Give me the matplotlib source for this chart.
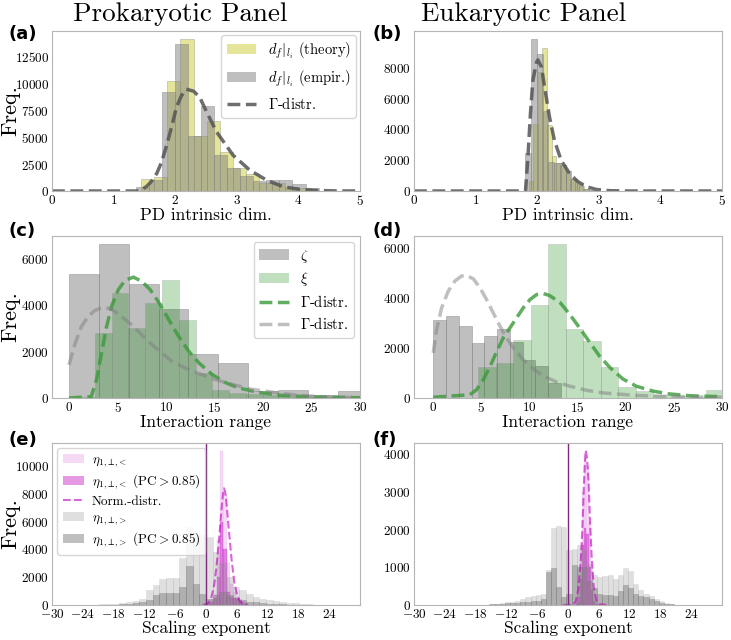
import numpy as np
import matplotlib.pyplot as plt
from matplotlib.patches import Patch
from matplotlib.lines import Line2D

plt.rcParams['font.family'] = ['cmr10', 'DejaVu Sans']
plt.rcParams['mathtext.fontset'] = 'cm'
plt.rcParams['axes.formatter.use_mathtext'] = True

# ---------------- data ----------------
# (a) prokaryotic PD intrinsic dim
a_theory_start, a_theory_w = 1.45, 0.212
a_theory = [1080, 1320, 10260, 14200, 5080, 6540, 3600, 2100, 1540, 770, 710, 400, 250]
a_emp_start, a_emp_w = 1.36, 0.212
a_emp = [400, 1000, 9240, 13700, 5100, 7950, 3330, 2150, 1390, 925, 1050, 1000, 650, 250]
a_fit_x = [0, 1.35, 1.42, 1.53, 1.61, 1.70, 1.78, 1.86, 1.94, 2.02, 2.10, 2.18, 2.30, 2.40, 2.51,
           2.67, 2.94, 3.21, 3.48, 3.75, 4.02, 4.30, 4.6, 5.0]
a_fit_y = [0, 0, 0, 400, 860, 1630, 2700, 4240, 5940, 7800, 8870, 9490, 9300, 8710, 7370,
           5520, 3330, 1950, 1020, 400, 150, 50, 10, 0]

# (b) eukaryotic PD intrinsic dim
b_theory_start, b_theory_w = 1.86, 0.075
b_theory = [640, 4350, 7700, 9300, 4300, 2280, 1800, 1690, 1150, 800, 600, 300, 100]
b_emp_start, b_emp_w = 1.81, 0.093
b_emp = [2470, 9900, 8930, 5200, 1900, 1850, 1700, 1300, 800, 450, 150, 60, 20]
b_fit_x = [0, 1.81, 1.85, 1.89, 1.93, 1.99, 2.01, 2.07, 2.12, 2.20, 2.28, 2.39, 2.53, 2.66,
           2.80, 2.96, 3.18, 3.5, 5.0]
b_fit_y = [0, 0, 2230, 5020, 7200, 8370, 8520, 8050, 6750, 4800, 3280, 1980, 1110, 610,
           280, 100, 20, 0, 0]

# (c) prokaryotic interaction range
c_zeta_start, c_zeta_w = 0.0, 3.08
c_zeta = [5350, 6650, 4920, 3830, 1910, 1510, 300, 330, 140, 290]
c_xi_start, c_xi_w = 0.94, 1.73
c_xi = [50, 2800, 4520, 3010, 4090, 5100, 3370, 1080, 330, 230, 180, 120, 80, 60, 50, 30, 30]
c_fitxi_x = [0, 2.3, 2.84, 3.36, 3.88, 4.39, 5.09, 5.78, 6.64, 7.5, 8.37, 9.24, 10.28, 11.3,
             12.35, 13.4, 14.8, 16.2, 17.5, 19.6, 22.0, 25.5, 30]
c_fitxi_y = [0, 60, 790, 1940, 3080, 3950, 4670, 5070, 5210, 5030, 4670, 4130, 3380, 2660,
             2010, 1510, 1000, 650, 430, 240, 110, 40, 10]
c_fitzeta_x = [0, 0.59, 1.28, 1.97, 2.66, 3.53, 4.39, 5.43, 6.47, 7.5, 8.55, 9.58, 10.6, 12.0,
               13.4, 15.1, 16.9, 18.6, 20.3, 22.0, 23.8, 25.5, 27.2, 30]
c_fitzeta_y = [1430, 2300, 3080, 3510, 3770, 3920, 3830, 3510, 3150, 2720, 2300, 1940, 1580, 1290,
               1050, 790, 580, 390, 290, 190, 110, 70, 40, 20]

# (d) eukaryotic interaction range
d_zeta_start, d_zeta_w = 0.0, 1.325
d_zeta = [3130, 3290, 2870, 2200, 2460, 2770, 2250, 1500, 1280, 600]
d_xi_start, d_xi_w = 4.68, 1.82
d_xi = [1230, 1400, 2300, 3730, 6160, 2760, 2290, 1220, 420, 290, 130, 60, 40, 300]
d_fitxi_x = [0, 3.8, 4.5, 5.2, 5.9, 6.6, 7.27, 7.97, 8.66, 9.35, 10.05, 10.74, 11.43, 12.1, 13.2,
             14.2, 15.2, 16.3, 17.3, 18.4, 19.7, 21.1, 22.9, 24.6, 26.7, 30]
d_fitxi_y = [30, 130, 330, 730, 1260, 1860, 2400, 2800, 3200, 3600, 3930, 4130, 4170, 4090, 3800,
             3330, 2800, 2200, 1660, 1200, 760, 470, 270, 160, 90, 50]
d_fitzeta_x = [0, 0.35, 0.87, 1.56, 2.25, 2.94, 3.46, 4.16, 4.85, 5.54, 6.23, 6.93, 7.62, 8.31,
               9.35, 10.4, 11.4, 12.8, 14.2, 15.9, 17.7, 21.1, 24.6, 30]
d_fitzeta_y = [1800, 2730, 3600, 4270, 4670, 4870, 4890, 4760, 4400, 3930, 3400, 2870, 2400, 2000,
               1530, 1160, 890, 640, 470, 310, 200, 100, 60, 30]

# (e) prokaryotic scaling exponent
e_gt_start, e_gt_w = -20.8, 1.3
e_gt = [40, 60, 90, 130, 200, 300, 430, 1070, 1430, 1840, 1910, 1910, 3350, 5580, 5150, 5030,
        4900, 3800, 3000, 2000, 1300, 1100, 800, 600, 450, 350, 280, 220, 160, 110, 70, 40, 20]
e_gt_pc = [10, 20, 30, 50, 80, 120, 240, 360, 720, 840, 890, 840, 1320, 2800, 1500, 800,
           400, 700, 900, 700, 500, 350, 250, 180, 120, 90, 60, 40, 30, 20, 10, 5, 0]
e_lt_start, e_lt_w = -0.8, 0.6
e_lt = [50, 100, 200, 400, 800, 4700, 11100, 8000, 3000, 1500, 900, 600, 450, 300, 150]
e_lt_pc = [30, 60, 120, 250, 500, 2000, 6000, 4000, 900, 600, 500, 400, 300, 150, 60]
e_norm_x = [-0.5, 0, 0.5, 1.0, 1.5, 2.0, 2.5, 3.0, 3.3, 3.5, 3.7, 4.0, 4.5, 5.0, 5.5, 6.0, 6.5,
            7.0, 7.5, 8.0]
e_norm_y = [20, 50, 180, 500, 1200, 2600, 4500, 6800, 8000, 8400, 8200, 7300, 5200, 3200, 1700,
            800, 330, 120, 40, 10]

# (f) eukaryotic scaling exponent
f_gt_start, f_gt_w = -15.3, 1.0
f_gt = [20, 30, 50, 70, 90, 110, 150, 200, 240, 270, 300, 930, 2050, 2100, 2080, 1460, 1500,
        1600, 1450, 1100, 800, 750, 780, 800, 700, 800, 990, 900, 560, 400, 300, 230, 150, 100,
        50, 20]
f_gt_pc = [30, 20, 30, 40, 50, 60, 70, 90, 100, 110, 150, 880, 970, 480, 200, 300, 1060, 1010,
           1010, 630, 450, 300, 270, 270, 250, 360, 540, 450, 300, 250, 200, 150, 100, 60, 30, 15]
f_lt_start, f_lt_w = 1.6, 0.4
f_lt = [100, 500, 1500, 3000, 4070, 3700, 2200, 900, 300, 100]
f_lt_pc = [40, 200, 700, 1600, 2050, 1900, 1000, 400, 100, 30]
f_norm_x = [-1.0, 1.0, 1.5, 2.0, 2.5, 2.8, 3.1, 3.3, 3.5, 3.7, 4.0, 4.3, 4.6, 5.0, 5.5, 6.0, 8.0]
f_norm_y = [0, 10, 100, 400, 1200, 2000, 3200, 3800, 4100, 3900, 3300, 2200, 1300, 500, 120, 20, 0]

titles = ['Prokaryotic Panel', 'Eukaryotic Panel']
letters = ['(a)', '(b)', '(c)', '(d)', '(e)', '(f)']


def hist(ax, start, w, counts, **kw):
    edges = start + w * np.arange(len(counts) + 1)
    ax.hist(edges[:-1], bins=edges, weights=counts, **kw)


fig = plt.figure(figsize=(7.31, 6.4), dpi=100)
W, H = 731, 640
cols = [(52, 360), (414, 722)]
rows = [(31, 191), (236, 398), (443, 605)]
axs = []
for r, (t, b) in enumerate(rows):
    for c, (l, rr) in enumerate(cols):
        ax = fig.add_axes([l / W, 1 - b / H, (rr - l) / W, (b - t) / H])
        for s in ax.spines.values():
            s.set_color('#b5b5b5')
        ax.tick_params(length=0, labelsize=9.5, pad=2)
        axs.append(ax)

ek = dict(edgecolor='#808080', linewidth=0.6)

# (a) / (b)
for ax, th, emp, fx, fy in [
        (axs[0], (a_theory_start, a_theory_w, a_theory), (a_emp_start, a_emp_w, a_emp), a_fit_x, a_fit_y),
        (axs[1], (b_theory_start, b_theory_w, b_theory), (b_emp_start, b_emp_w, b_emp), b_fit_x, b_fit_y)]:
    hist(ax, *th, color='y', alpha=0.4, **ek)
    hist(ax, *emp, color='gray', alpha=0.5, **ek)
    ax.plot(fx, fy, '--', color='#555555', lw=2.5, alpha=0.85)
    ax.set_xlim(0, 5)
    ax.set_xlabel('PD intrinsic dim.', fontsize=12.5, labelpad=0)
axs[0].set_yticks([0, 2500, 5000, 7500, 10000, 12500])
axs[1].set_yticks([0, 2000, 4000, 6000, 8000])
axs[0].legend(handles=[Patch(facecolor='y', alpha=0.4, edgecolor='none'),
                       Patch(facecolor='gray', alpha=0.5, edgecolor='none'),
                       Line2D([], [], ls='--', color='#555555', lw=2.5, alpha=0.85)],
              labels=[r'$d_f|_{l_i}$ (theory)', r'$d_f|_{l_i}$ (empir.)', r'$\Gamma$-distr.'],
              loc='upper right', fontsize=10.5, borderaxespad=0.25)

# (c) / (d)
for ax, z, x, fxx, fxy, fzx, fzy, lo in [
        (axs[2], (c_zeta_start, c_zeta_w, c_zeta), (c_xi_start, c_xi_w, c_xi),
         c_fitxi_x, c_fitxi_y, c_fitzeta_x, c_fitzeta_y, -1.75),
        (axs[3], (d_zeta_start, d_zeta_w, d_zeta), (d_xi_start, d_xi_w, d_xi),
         d_fitxi_x, d_fitxi_y, d_fitzeta_x, d_fitzeta_y, -2.0)]:
    hist(ax, *z, color='gray', alpha=0.5, **ek)
    hist(ax, *x, color='g', alpha=0.25, **ek)
    ax.plot(fxx, fxy, '--', color='#3a9a3a', lw=2.5, alpha=0.8)
    ax.plot(fzx, fzy, '--', color='gray', lw=2.5, alpha=0.5)
    ax.set_xlim(lo, 30)
    ax.set_xticks([0, 5, 10, 15, 20, 25, 30])
    ax.set_yticks([0, 2000, 4000, 6000])
    ax.set_xlabel('Interaction range', fontsize=12.5, labelpad=0)
axs[2].legend(handles=[Patch(facecolor='gray', alpha=0.5, edgecolor='none'),
                       Patch(facecolor='g', alpha=0.25, edgecolor='none'),
                       Line2D([], [], ls='--', color='#3a9a3a', lw=2.5, alpha=0.8),
                       Line2D([], [], ls='--', color='gray', lw=2.5, alpha=0.5)],
              labels=[r'$\zeta$', r'$\xi$', r'$\Gamma$-distr.', r'$\Gamma$-distr.'],
              loc='upper right', fontsize=10.5, borderaxespad=0.4, labelspacing=0.4)

# (e) / (f)
for ax, gt, gtpc, lt, ltpc, nx, ny in [
        (axs[4], (e_gt_start, e_gt_w, e_gt), (e_gt_start, e_gt_w, e_gt_pc),
         (e_lt_start, e_lt_w, e_lt), (e_lt_start, e_lt_w, e_lt_pc), e_norm_x, e_norm_y),
        (axs[5], (f_gt_start, f_gt_w, f_gt), (f_gt_start, f_gt_w, f_gt_pc),
         (f_lt_start, f_lt_w, f_lt), (f_lt_start, f_lt_w, f_lt_pc), f_norm_x, f_norm_y)]:
    hist(ax, *lt, color='m', alpha=0.15, edgecolor='m', linewidth=0.3)
    hist(ax, *ltpc, color='m', alpha=0.4, edgecolor='m', linewidth=0.3)
    ax.plot(nx, ny, '--', color='m', lw=1.5, alpha=0.6)
    hist(ax, *gt, color='gray', alpha=0.25, edgecolor='#999999', linewidth=0.4)
    hist(ax, *gtpc, color='gray', alpha=0.5, edgecolor='#777777', linewidth=0.4)
    ax.axvline(0, color='#7a2a7a', lw=1)
    ax.set_xlim(-30, 30)
    ax.set_xticks(np.arange(-30, 25, 6))
    ax.set_xlabel('Scaling exponent', fontsize=12.5, labelpad=0)
axs[4].set_yticks([0, 2000, 4000, 6000, 8000, 10000])
axs[5].set_yticks([0, 1000, 2000, 3000, 4000])
sub = r'{1,\!\perp\!,\!<}'
sup = r'{1,\!\perp\!,\!>}'
axs[4].legend(handles=[Patch(facecolor='m', alpha=0.15, edgecolor='none'),
                       Patch(facecolor='m', alpha=0.4, edgecolor='none'),
                       Line2D([], [], ls='--', color='m', lw=1.5, alpha=0.6),
                       Patch(facecolor='gray', alpha=0.25, edgecolor='none'),
                       Patch(facecolor='gray', alpha=0.5, edgecolor='none')],
              labels=[r'$\eta_' + sub + '$', r'$\eta_' + sub + r'$ (PC${>}$0.85)', 'Norm.-distr.',
                      r'$\eta_' + sup + '$', r'$\eta_' + sup + r'$ (PC${>}$0.85)'],
              loc='upper left', fontsize=9.5, labelspacing=0.3, handlelength=1.6,
              handletextpad=0.6, borderaxespad=0.4)

for ax in axs[0::2]:
    ax.set_ylabel('Freq.', fontsize=16)
    ax.yaxis.set_label_coords(-32 / 308, 0.5)

label_y = [34, 34, 231, 231, 440, 440]
label_x = [8, 372, 8, 372, 8, 372]
for lab, lx, ly in zip(letters, label_x, label_y):
    fig.text(lx / W, 1 - ly / H, lab, fontsize=13, fontweight='bold',
             family='DejaVu Sans', ha='left', va='center')

fig.text(180 / W, 1 - 14 / H, titles[0], fontsize=19.5, ha='center', va='center')
fig.text(524 / W, 1 - 14 / H, titles[1], fontsize=19.5, ha='center', va='center')

fig.savefig('out.png', dpi=100)
